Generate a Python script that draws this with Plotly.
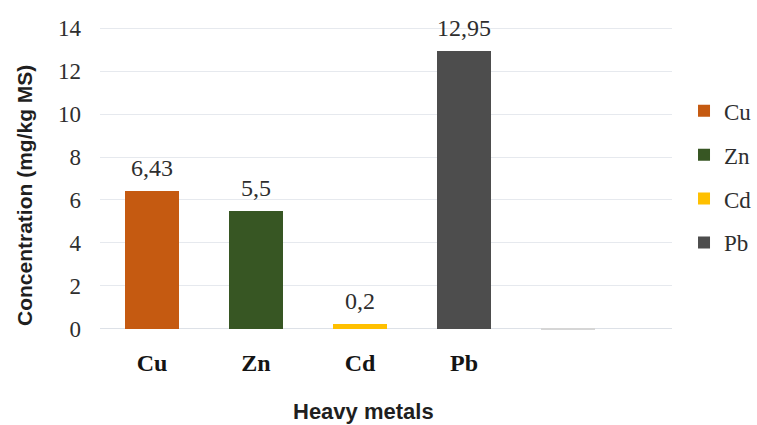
import plotly.graph_objects as go

# Heavy-metal concentrations (mg/kg MS)
metals = ["Cu", "Zn", "Cd", "Pb"]
values = [6.43, 5.5, 0.2, 12.95]
colors = ["#C55A11", "#375623", "#FFC000", "#4D4D4D"]
labels = ["6,43", "5,5", "0,2", "12,95"]

# trailing empty category slot with a near-zero residual mark
extra_category = " "
extra_value = -0.08
extra_color = "#d6d6d6"

y_ticks = [0, 2, 4, 6, 8, 10, 12, 14]

serif = "Liberation Serif, Times New Roman, serif"
sans = "Liberation Sans, Arial, sans-serif"

fig = go.Figure()

for m, v, c in zip(metals, values, colors):
    fig.add_trace(go.Bar(
        x=[m], y=[v], name=m,
        marker=dict(color=c, line=dict(width=0)),
        width=0.52, legendgroup=m,
    ))

fig.add_trace(go.Bar(
    x=[extra_category], y=[extra_value], showlegend=False,
    marker=dict(color=extra_color, line=dict(width=0)), width=0.52,
))

# value labels above each bar
for m, v, t in zip(metals, values, labels):
    fig.add_annotation(
        x=m, y=v, text=t, showarrow=False, yanchor="bottom", yshift=8,
        font=dict(family=serif, size=24, color="#2e2e2e"),
    )

# axis titles
fig.add_annotation(
    xref="paper", yref="paper", x=-0.133, y=0.447,
    text="<b>Concentration (mg/kg MS)</b>", textangle=-90, showarrow=False,
    xanchor="center", yanchor="middle",
    font=dict(family=sans, size=21, color="#1f1f1f"),
)
fig.add_annotation(
    xref="paper", yref="paper", x=0.46, y=-0.246,
    text="<b>Heavy metals</b>", showarrow=False,
    xanchor="center", yanchor="middle",
    font=dict(family=sans, size=22, color="#1f1f1f"),
)

fig.update_layout(
    width=757, height=425,
    margin=dict(l=100, r=85, t=22, b=90, autoexpand=False),
    paper_bgcolor="white", plot_bgcolor="white",
    barmode="overlay",
    bargap=0,
    showlegend=True,
    legend=dict(
        x=1.021, y=0.785, xanchor="left", yanchor="top",
        traceorder="grouped", tracegroupgap=11,
        font=dict(family=serif, size=23, color="#2e2e2e"),
        bgcolor="rgba(0,0,0,0)",
    ),
    xaxis=dict(
        categoryorder="array", categoryarray=metals + [extra_category],
        range=[-0.5, 5.0],
        showgrid=False, showline=False, zeroline=False, ticks="",
        tickfont=dict(family=serif, size=24, color="#141414", weight="bold"),
        ticklabelstandoff=11,
    ),
    yaxis=dict(
        range=[-0.3, 14.3],
        tickvals=y_ticks,
        showgrid=True, gridcolor="#e6e9ee", gridwidth=1.3,
        zeroline=True, zerolinecolor="#dde1e7", zerolinewidth=1.3,
        showline=False, ticks="",
        tickfont=dict(family=serif, size=23, color="#2e2e2e"),
        ticklabelstandoff=18,
    ),
)

fig.write_html("out.html")
